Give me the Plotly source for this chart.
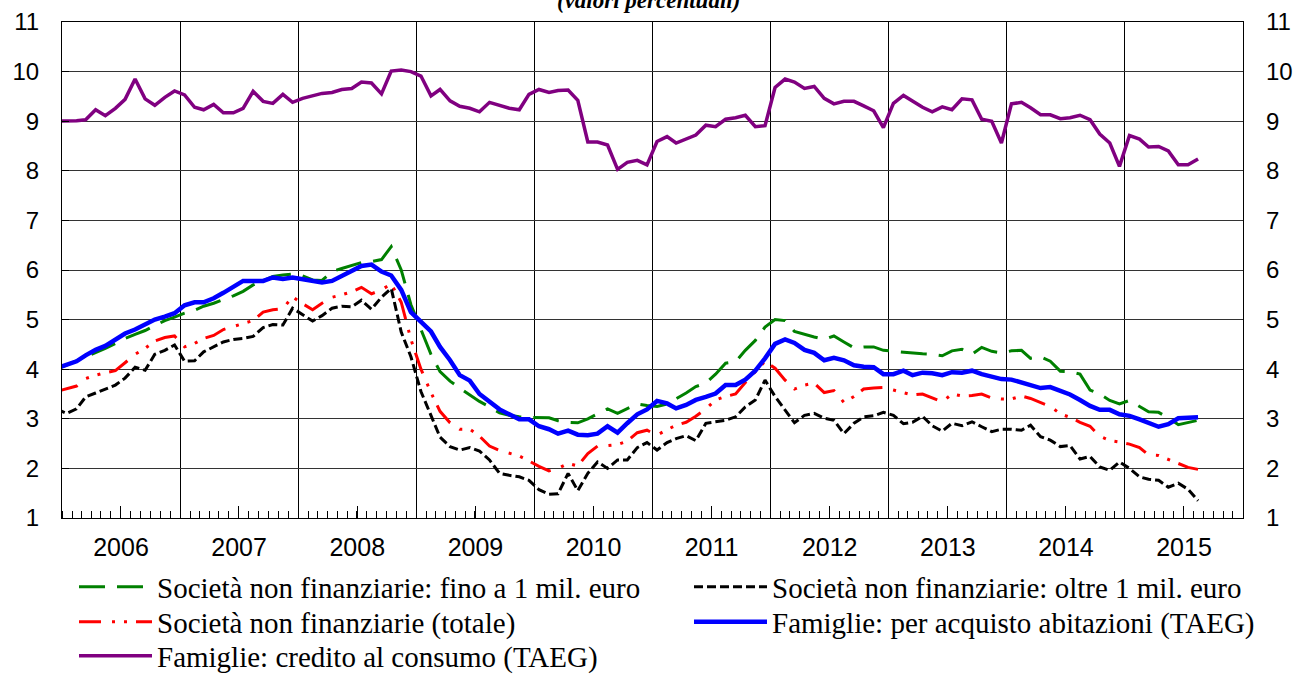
import pandas as pd
import plotly.graph_objects as go

# Monthly observations, Dec 2005 - Aug 2015 (plotted at mid-month)
months = pd.date_range("2005-12-01", "2015-08-01", freq="MS") + pd.Timedelta(days=14)

snf_small = [4.00,
    4.08, 4.17, 4.25, 4.33, 4.42, 4.52, 4.62, 4.70, 4.78, 4.88, 4.98, 5.05,
    5.13, 5.19, 5.27, 5.33, 5.40, 5.48, 5.57, 5.70, 5.78, 5.87, 5.90, 5.92,
    5.88, 5.80, 5.79, 5.97, 6.03, 6.09, 6.15, 6.17, 6.21, 6.47, 6.00, 5.30,
    4.80, 4.30, 3.95, 3.76, 3.62, 3.49, 3.35, 3.24, 3.12, 3.07, 3.04, 3.03,
    3.03, 3.02, 2.96, 2.93, 2.92, 3.00, 3.10, 3.20, 3.11, 3.20, 3.30, 3.27,
    3.25, 3.30, 3.40, 3.52, 3.65, 3.72, 3.90, 4.12, 4.15, 4.38, 4.58, 4.85,
    5.00, 4.98, 4.76, 4.70, 4.65, 4.60, 4.67, 4.55, 4.43, 4.45, 4.45, 4.38,
    4.36, 4.35, 4.33, 4.31, 4.30, 4.27, 4.37, 4.40, 4.30, 4.44, 4.36, 4.33,
    4.37, 4.38, 4.22, 4.25, 4.16, 3.96, 3.95, 3.90, 3.58, 3.50, 3.37, 3.30,
    3.37, 3.25, 3.14, 3.13, 3.02, 2.88, 2.93, 2.97]

snf_large = [3.20,
    3.11, 3.20, 3.44, 3.52, 3.60, 3.68, 3.82, 4.04, 3.98, 4.30, 4.38, 4.49,
    4.16, 4.17, 4.35, 4.45, 4.55, 4.60, 4.62, 4.66, 4.84, 4.90, 4.89, 5.23,
    5.10, 4.97, 5.08, 5.23, 5.27, 5.26, 5.39, 5.21, 5.45, 5.63, 4.75, 4.25,
    3.55, 3.05, 2.63, 2.44, 2.37, 2.42, 2.35, 2.17, 1.90, 1.86, 1.83, 1.76,
    1.57, 1.48, 1.49, 1.90, 1.55, 1.90, 2.13, 2.00, 2.17, 2.17, 2.42, 2.52,
    2.37, 2.52, 2.60, 2.66, 2.56, 2.91, 2.94, 2.97, 3.04, 3.24, 3.38, 3.78,
    3.45, 3.18, 2.92, 3.07, 3.11, 3.01, 2.97, 2.70, 2.91, 3.04, 3.06, 3.13,
    3.07, 2.90, 2.93, 3.05, 2.86, 2.75, 2.91, 2.86, 2.94, 2.84, 2.74, 2.79,
    2.79, 2.77, 2.87, 2.64, 2.57, 2.44, 2.46, 2.19, 2.24, 2.03, 1.96, 2.13,
    2.00, 1.83, 1.78, 1.76, 1.62, 1.70, 1.58, 1.35]

snf_total = [3.55,
    3.60, 3.66, 3.81, 3.88, 3.93, 3.97, 4.13, 4.30, 4.42, 4.57, 4.64, 4.67,
    4.45, 4.52, 4.62, 4.68, 4.80, 4.86, 4.92, 4.98, 5.15, 5.20, 5.22, 5.46,
    5.32, 5.20, 5.33, 5.45, 5.50, 5.56, 5.65, 5.52, 5.60, 5.72, 5.35, 4.60,
    4.00, 3.53, 3.15, 2.92, 2.79, 2.79, 2.65, 2.45, 2.36, 2.31, 2.25, 2.15,
    2.04, 1.95, 2.00, 2.10, 2.05, 2.30, 2.45, 2.46, 2.48, 2.55, 2.72, 2.77,
    2.67, 2.78, 2.87, 2.93, 3.05, 3.20, 3.38, 3.45, 3.50, 3.73, 3.95, 4.16,
    4.02, 3.78, 3.60, 3.68, 3.72, 3.53, 3.57, 3.33, 3.45, 3.60, 3.62, 3.63,
    3.58, 3.52, 3.48, 3.50, 3.42, 3.34, 3.50, 3.46, 3.47, 3.50, 3.42, 3.40,
    3.40, 3.46, 3.41, 3.33, 3.25, 3.10, 3.03, 2.93, 2.85, 2.65, 2.56, 2.53,
    2.49, 2.42, 2.27, 2.26, 2.18, 2.10, 2.02, 1.98]

fam_house = [4.02,
    4.08, 4.16, 4.28, 4.39, 4.47, 4.61, 4.72, 4.80, 4.91, 5.00, 5.06, 5.13,
    5.29, 5.35, 5.35, 5.43, 5.54, 5.65, 5.78, 5.78, 5.78, 5.85, 5.82, 5.85,
    5.81, 5.77, 5.75, 5.78, 5.88, 5.99, 6.08, 6.11, 5.97, 5.89, 5.60, 5.15,
    4.95, 4.76, 4.45, 4.18, 3.88, 3.77, 3.50, 3.34, 3.19, 3.09, 2.99, 2.99,
    2.85, 2.79, 2.70, 2.76, 2.68, 2.67, 2.70, 2.85, 2.72, 2.91, 3.09, 3.19,
    3.36, 3.31, 3.21, 3.28, 3.38, 3.44, 3.51, 3.68, 3.68, 3.79, 3.97, 4.22,
    4.51, 4.60, 4.53, 4.39, 4.33, 4.18, 4.23, 4.18, 4.08, 4.05, 4.04, 3.90,
    3.90, 3.97, 3.88, 3.93, 3.92, 3.88, 3.94, 3.93, 3.97, 3.90, 3.86, 3.80,
    3.79, 3.73, 3.69, 3.62, 3.64, 3.56, 3.49, 3.38, 3.26, 3.18, 3.18, 3.09,
    3.06, 2.99, 2.92, 2.84, 2.89, 3.01, 3.02, 3.03]

fam_consumer = [9.00,
    9.00, 9.01, 9.03, 9.23, 9.11, 9.26, 9.44, 9.85, 9.45, 9.32, 9.48, 9.61,
    9.53, 9.28, 9.23, 9.34, 9.17, 9.17, 9.26, 9.60, 9.40, 9.36, 9.54, 9.38,
    9.46, 9.52, 9.56, 9.58, 9.64, 9.66, 9.79, 9.77, 9.55, 10.01, 10.03, 10.00,
    9.91, 9.51, 9.64, 9.41, 9.30, 9.26, 9.19, 9.38, 9.31, 9.26, 9.23, 9.54,
    9.64, 9.58, 9.62, 9.63, 9.42, 8.58, 8.58, 8.52, 8.03, 8.17, 8.21, 8.12,
    8.59, 8.69, 8.56, 8.64, 8.72, 8.92, 8.89, 9.04, 9.07, 9.12, 8.89, 8.91,
    9.68, 9.85, 9.79, 9.66, 9.70, 9.46, 9.35, 9.40, 9.40, 9.31, 9.21, 8.87,
    9.36, 9.52, 9.40, 9.28, 9.19, 9.29, 9.23, 9.45, 9.43, 9.04, 9.00, 8.56,
    9.35, 9.38, 9.27, 9.13, 9.13, 9.05, 9.07, 9.12, 9.03, 8.74, 8.56, 8.09,
    8.71, 8.64, 8.48, 8.49, 8.40, 8.12, 8.12, 8.24]

names = [
    "Società non finanziarie: fino a 1 mil. euro",
    "Società non finanziarie (totale)",
    "Società non finanziarie: oltre 1 mil. euro",
    "Famiglie: per acquisto abitazioni (TAEG)",
    "Famiglie: credito al consumo (TAEG)",
]
years = list(range(2006, 2016))
y_ticks = list(range(1, 12))

# values, colour, width, dash, legend id
styles = [
    (snf_small, "#008000", 3, "26px,12px", "legend"),
    (snf_total, "#FF0000", 3, "22px,11px,3px,9px,3px,9px", "legend2"),
    (snf_large, "#000000", 3, "9px,4px", "legend4"),
    (fam_house, "#0000FF", 4.5, "solid", "legend5"),
    (fam_consumer, "#800080", 3.5, "solid", "legend3"),
]

fig = go.Figure()
for i, (vals, col, w, dash, leg) in enumerate(styles):
    fig.add_trace(go.Scatter(
        x=months, y=vals, mode="lines", name=names[i],
        line=dict(color=col, width=w, dash=dash),
        legend=leg, hoverinfo="skip",
    ))

x_range = [f"{years[0]}-01-01", f"{years[-1] + 1}-01-01"]

# helper trace (single point, draws nothing) so the right axis and mid-year ticks exist
fig.add_trace(go.Scatter(
    x=[x_range[0]], y=[1], xaxis="x2", yaxis="y2", mode="lines",
    line=dict(color="rgba(0,0,0,0)"), showlegend=False, hoverinfo="skip",
))

sans = "Arial"
serif = "Times New Roman"
ytick_font = dict(family=sans, size=24, color="black")
xtick_font = dict(family=sans, size=25, color="black")
leg_font = dict(family=serif, size=29, color="black")

W, H = 1297, 680
ML, MR, MT, MB = 62, 54, 22, 162
PW, PH = W - ML - MR, H - MT - MB
col_x = [74, 689]
row_y = [587, 622, 656]
leg_pos = {
    "legend": (col_x[0], row_y[0]),
    "legend2": (col_x[0], row_y[1]),
    "legend3": (col_x[0], row_y[2]),
    "legend4": (col_x[1], row_y[0]),
    "legend5": (col_x[1], row_y[1]),
}
legends = {}
for key, (px, py) in leg_pos.items():
    legends[key] = dict(
        x=(px - ML) / PW, y=(H - MB - py) / PH, xanchor="left", yanchor="middle",
        orientation="v", itemwidth=73, font=leg_font,
        bgcolor="rgba(0,0,0,0)", borderwidth=0,
    )

fig.update_layout(
    width=W, height=H,
    margin=dict(l=ML, r=MR, t=MT, b=MB, autoexpand=False),
    paper_bgcolor="white", plot_bgcolor="white",
    font=dict(family=sans, color="black"),
    showlegend=True,
    xaxis=dict(
        type="date", range=x_range, automargin=False,
        dtick="M12", tick0=x_range[0], tickformat="%Y", ticklabelmode="period",
        ticks="inside", ticklen=7, tickcolor="black",
        showgrid=True, gridcolor="black", gridwidth=1,
        showline=True, linecolor="black", linewidth=1, mirror=True,
        tickfont=xtick_font, ticklabelstandoff=7,
        minor=dict(dtick="M1", tick0=x_range[0], ticks="inside", ticklen=7,
                   tickcolor="black", showgrid=False),
        zeroline=False,
    ),
    xaxis2=dict(
        type="date", range=x_range, overlaying="x", anchor="y2", side="bottom",
        automargin=False,
        tickmode="array", tickvals=[f"{y}-07-02" for y in years],
        ticks="inside", ticklen=12, tickcolor="black",
        showticklabels=False, showgrid=False, showline=False, zeroline=False,
    ),
    yaxis=dict(
        range=[1, 11], tickmode="array", tickvals=y_ticks, automargin=False,
        ticks="inside", ticklen=7, tickcolor="black",
        showgrid=True, gridcolor="#333333", gridwidth=1,
        showline=True, linecolor="black", linewidth=1, mirror=True,
        tickfont=ytick_font, ticklabelstandoff=17, zeroline=False,
    ),
    yaxis2=dict(
        range=[1, 11], tickmode="array", tickvals=y_ticks, overlaying="y",
        side="right", anchor="x2", ticks="", showgrid=False, showline=False,
        automargin=False,
        tickfont=ytick_font, ticklabelstandoff=22, zeroline=False,
    ),
    annotations=[dict(
        text="<b><i>(valori percentuali)</i></b>", xref="paper", yref="paper",
        x=0.497, y=1.015, xanchor="center", yanchor="bottom", showarrow=False,
        font=dict(family=serif, size=23, color="black"),
    )],
    **legends,
)

# remove the browser's default page margin so the figure sits at the window's corner
fig.write_html(
    "out.html",
    config={"displayModeBar": False},
    post_script="document.body.style.margin='0';",
)
